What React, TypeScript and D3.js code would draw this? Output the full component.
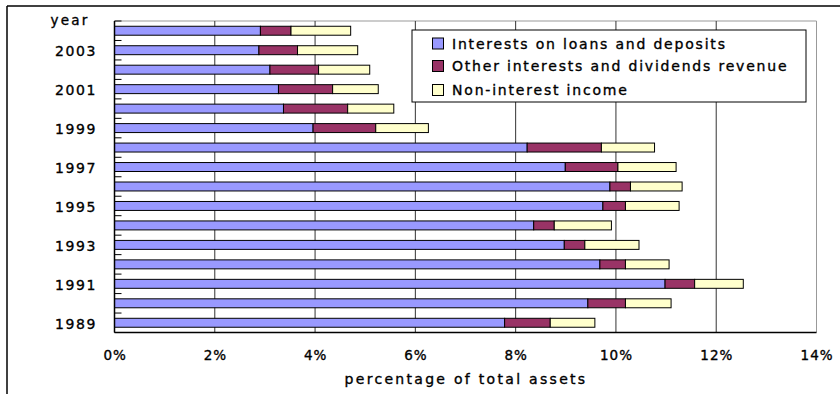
import React from "react";
import * as d3 from "d3";

const years = ["2004","2003","2002","2001","2000","1999","1998","1997","1996","1995","1994","1993","1992","1991","1990","1989"];
const yearLabels = ["2003","2001","1999","1997","1995","1993","1991","1989"];
const loans = [2.91,2.88,3.10,3.27,3.37,3.96,8.23,8.99,9.88,9.74,8.36,8.97,9.68,10.98,9.44,7.78];
const otherInt = [0.61,0.77,0.97,1.08,1.28,1.25,1.48,1.05,0.41,0.45,0.41,0.41,0.51,0.59,0.75,0.91];
const nonInt = [1.19,1.20,1.02,0.91,0.92,1.05,1.06,1.16,1.03,1.07,1.14,1.08,0.87,0.97,0.91,0.89];
const seriesNames = ["Interests on loans and deposits","Other interests and dividends revenue","Non-interest income"];
const colors = ["#9999FF","#993366","#FFFFCC"];
const xTicks = [0,2,4,6,8,10,12,14];

const FONT = "'DejaVu Sans', sans-serif";
const textStyle = { fontFamily: FONT, fill: "#000", stroke: "#000", strokeWidth: 0.35 } as const;

export default function App() {
  const W = 840, H = 394;
  const left = 114.5, right = 816.5, top = 21, bottom = 332.5;
  const x = d3.scaleLinear().domain([0, 14]).range([left, right]);
  const y = d3.scaleBand<string>().domain(years).range([top, bottom]).paddingInner(0.54).paddingOuter(0.27);
  const rows = years.map((yr, i) => ({ yr, vals: [loans[i], otherInt[i], nonInt[i]] }));
  const stacked = d3.stack<any>().keys(["0","1","2"]).value((d: any, k: string) => d.vals[+k])(rows);
  const boundaries = d3.range(years.length + 1).map(i => top + i * (bottom - top) / years.length);

  return (
    <svg width={W} height={H} style={{ position: "absolute", left: 0, top: 0, background: "#fff" }}>
      <rect x={0} y={0} width={W} height={H} fill="#fff" />
      {/* outer frame */}
      <line x1={7} y1={6} x2={W + 5} y2={6} stroke="#000" strokeWidth={1.5} />
      <line x1={7} y1={6} x2={7} y2={H + 5} stroke="#000" strokeWidth={1.5} />
      {/* plot border */}
      <line x1={left} y1={top} x2={right} y2={top} stroke="#999" strokeWidth={1} />
      <line x1={right} y1={top} x2={right} y2={bottom} stroke="#999" strokeWidth={1} />
      {/* gridlines */}
      {xTicks.slice(1, -1).map(t => (
        <line key={t} x1={x(t)} x2={x(t)} y1={top} y2={bottom} stroke="#333" strokeWidth={1} />
      ))}
      {/* bars */}
      {stacked.map((s, si) => (
        <g key={si}>
          {s.map((d: any, i: number) => (
            <rect key={i} x={x(d[0])} y={y(years[i])!} width={x(d[1]) - x(d[0])} height={y.bandwidth()}
              fill={colors[si]} stroke="#000" strokeWidth={1} />
          ))}
        </g>
      ))}
      {/* axes */}
      <line x1={left} y1={top} x2={left} y2={bottom} stroke="#000" strokeWidth={1.5} />
      <line x1={left} y1={bottom} x2={right} y2={bottom} stroke="#000" strokeWidth={1.5} />
      {boundaries.map((b, i) => (
        <line key={i} x1={left} x2={left + 7} y1={b} y2={b} stroke="#000" strokeWidth={1} />
      ))}
      {/* y labels */}
      <text x={70} y={20} textAnchor="middle" dominantBaseline="central" fontSize={13.5} letterSpacing={2.2} style={textStyle}>year</text>
      {yearLabels.map(yl => (
        <text key={yl} x={97} y={y(yl)! + y.bandwidth() / 2 + 0.8} textAnchor="end" dominantBaseline="central"
          fontSize={14} letterSpacing={1.6} style={textStyle}>{yl}</text>
      ))}
      {/* x labels */}
      {xTicks.map(t => (
        <text key={t} x={x(t) + 0.6} y={355} textAnchor="middle" dominantBaseline="central"
          fontSize={13.5} letterSpacing={1.0} style={textStyle}>{t + "%"}</text>
      ))}
      <text x={466} y={379} textAnchor="middle" dominantBaseline="central" fontSize={14} letterSpacing={2.3} style={textStyle}>percentage of total assets</text>
      {/* legend */}
      <rect x={412} y={30} width={394} height={72} fill="#fff" stroke="#000" strokeWidth={1} />
      {seriesNames.map((n, i) => {
        const cy = [43.5, 66, 90][i];
        return (
          <g key={n}>
            <rect x={432.5} y={cy - 5.5} width={11} height={11} fill={colors[i]} stroke="#000" strokeWidth={1} />
            <text x={452} y={cy} dominantBaseline="central" fontSize={14} letterSpacing={1.8} style={textStyle}>{n}</text>
          </g>
        );
      })}
    </svg>
  );
}
